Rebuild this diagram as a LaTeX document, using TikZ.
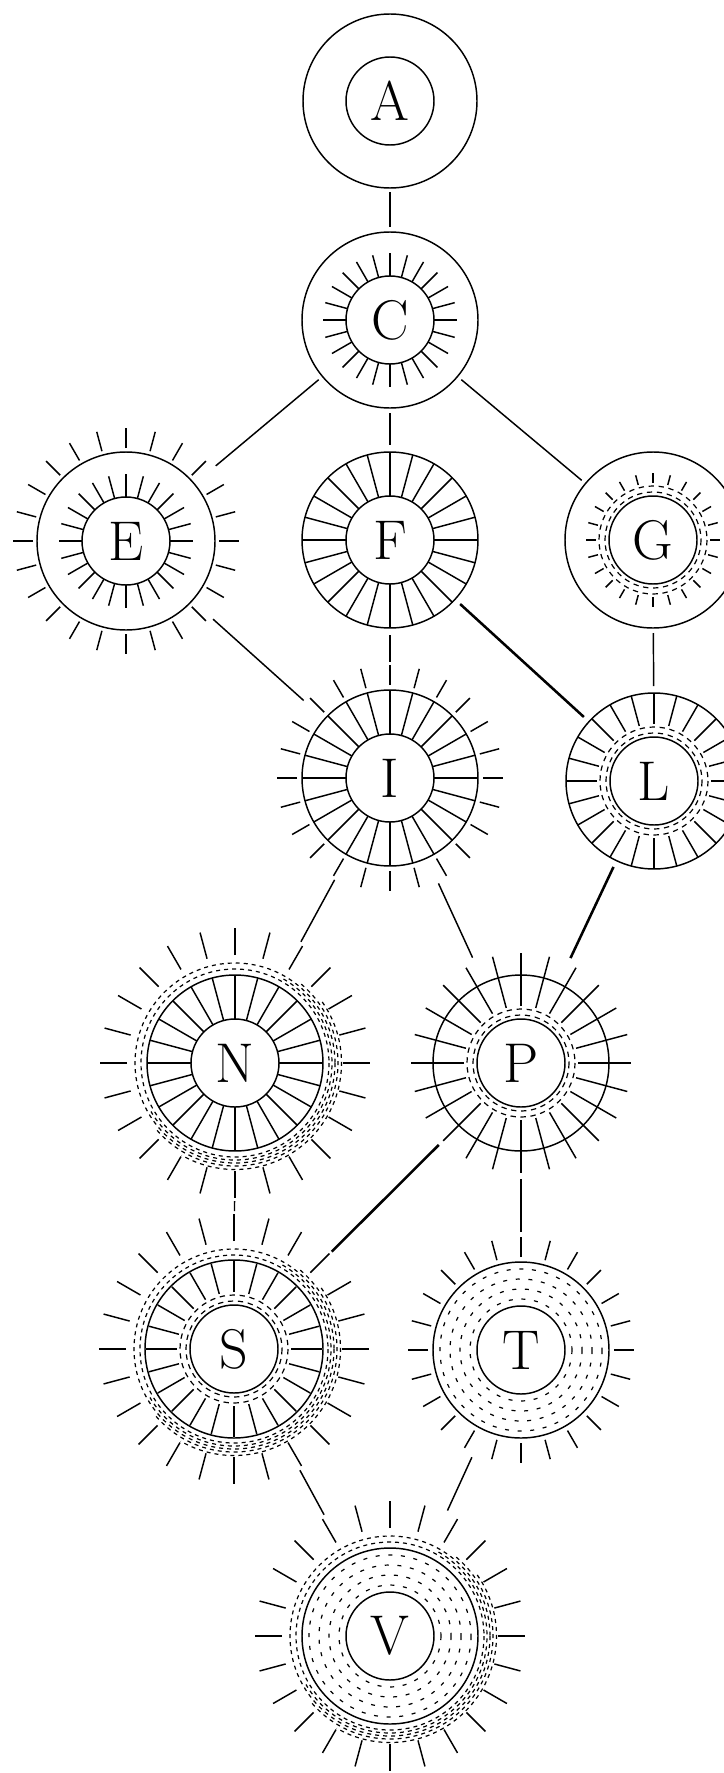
\documentclass[tikz,border=0pt]{standalone}
\begin{document}
\tikzset{every picture/.style={line width=1.1pt}}
\tikzset{
  letter/.style={circle, draw, minimum size=66pt, inner sep=0pt, font=\fontsize{42}{42}\selectfont},
  rim/.style={circle, minimum size=#1*1.5pt, inner sep=0pt, outer sep=0pt},
  ringdash/.style={dash pattern=on 4pt off 3.5pt, line width=0.9pt},
  fieldash/.style={dash pattern=on 3pt off 6.5pt, line width=0.9pt},
  shadowdash/.style={dash pattern=on 3pt off 3pt, line width=0.9pt},
  boldlink/.style={line width=1.9pt}
}
\begin{tikzpicture}[x=0.75pt,y=0.75pt,yscale=-1,xscale=1]
\useasboundingbox (0,0) rectangle (724,1773);

% Text Nodes
\node[letter] (A) at (390,101) {A};
\node[letter] (C) at (390,320) {C};
\node[letter] (E) at (126,541) {E};
\node[letter] (F) at (390,540) {F};
\node[letter] (G) at (653,540) {G};
\node[letter] (I) at (390,778) {I};
\node[letter] (L) at (654,781) {L};
\node[letter] (N) at (235,1063) {N};
\node[letter] (P) at (521,1063) {P};
\node[letter] (S) at (234,1349) {S};
\node[letter] (T) at (521,1350) {T};
\node[letter] (V) at (390,1636) {V};

% outer rings
\draw (A) circle (87);
\foreach \n in {C,F,G,I,L,N,P,T,V} \draw (\n) circle (88);
\draw (E) circle (89);
\draw (S) circle (89);

% short rays round the inner circle
\foreach \n in {C,E} \foreach \a in {0,15,...,345} \draw[shift={(\n)}] (\a:44) -- (\a:67);

% spokes across the ring
\foreach \n in {F,I,N} \foreach \a in {0,15,...,345} \draw[shift={(\n)}] (\a:44) -- (\a:88);

% dashed band round the inner circle
\foreach \n in {G,L,P,S} \draw[ringdash,shift={(\n)}] (0,0) circle (48) (0,0) circle (54);
\foreach \a in {0,15,...,345} \draw[shift={(G)}] (\a:57) -- (\a:67);
\foreach \n in {L,S} \foreach \a in {0,15,...,345} \draw[shift={(\n)}] (\a:57) -- (\a:88);
\foreach \a in {0,15,...,345} \draw[shift={(P)}] (\a:57) -- (\a:110);

% dotted filling of the ring
\foreach \n in {T,V} \foreach \r in {51,61,71,81} \draw[fieldash,shift={(\n)}] (0,0) circle (\r);

% shadow outside the ring
\foreach \n in {N,S,V}{
  \draw[shadowdash,shift={(\n)}] (0,0) circle (94) (0,0) circle (100);
  \draw[shadowdash,shift={(\n)}] (-60:97) arc (-60:150:97);
  \draw[shadowdash,shift={(\n)}] (-50:103) arc (-50:140:103);
  \draw[shadowdash,shift={(\n)}] (-35:106.5) arc (-35:120:106.5);
}

% outer rays
\foreach \n in {E,I,T} \foreach \a in {0,15,...,345} \draw[shift={(\n)}] (\a:93) -- (\a:113);
\foreach \n in {N,S,V} \foreach \a in {0,15,...,345} \draw[shift={(\n)}] (\a:108) -- (\a:135);

% rims for the links
\node[rim=91] (rA) at (A) {};
\node[rim=93] (rC) at (C) {};
\node[rim=117] (rE) at (E) {};
\node[rim=95] (rF) at (F) {};
\node[rim=93] (rG) at (G) {};
\node[rim=116] (rI) at (I) {};
\node[rim=95] (rL) at (L) {};
\node[rim=138] (rN) at (N) {};
\node[rim=116] (rP) at (P) {};
\node[rim=138] (rS) at (S) {};
\node[rim=118] (rT) at (T) {};
\node[rim=138] (rV) at (V) {};

% links
\draw (rA) -- (rC);
\draw (rC) -- (rE);
\draw (rC) -- (rF);
\draw (rC) -- (rG);
\draw (rE) -- (rI);
\draw (rF) -- (rI);
\draw[boldlink] (rF) -- (rL);
\draw (rG) -- (rL);
\draw (rI) -- (rN);
\draw (rI) -- (rP);
\draw[boldlink] (rL) -- (rP);
\draw (rN) -- (rS);
\draw[boldlink] (rP) -- (rS);
\draw (rP) -- (rT);
\draw (rS) -- (rV);
\draw (rT) -- (rV);
\end{tikzpicture}
\end{document}
